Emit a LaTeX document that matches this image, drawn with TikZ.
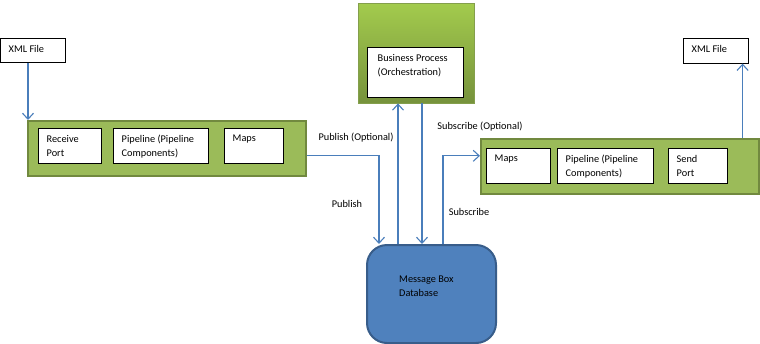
\documentclass[tikz,border=0pt]{standalone}
\usepackage{fontspec}
\setmainfont{Carlito}
\usetikzlibrary{positioning,arrows.meta}
\definecolor{bzverde}{HTML}{9BBB59}
\definecolor{bzverdeborda}{HTML}{71893F}
\definecolor{bzverdetopo}{HTML}{A3CB4D}
\definecolor{bzverdebase}{HTML}{76923C}
\definecolor{bzazul}{HTML}{4F81BD}
\definecolor{bzazulborda}{HTML}{385D8A}
\definecolor{bzseta}{HTML}{4A7EBB}
\tikzset{
  bzbarra/.style={draw=bzverdeborda, fill=bzverde, line width=1.6pt, anchor=north west, inner sep=0pt},
  bzcaixa/.style={draw=black, fill=white, line width=0.6pt, anchor=north west, inner sep=0pt},
  bztexto/.style={anchor=north west, align=left, inner sep=0pt, font=\fontsize{10.3}{14}\selectfont},
  bzrotulo/.style={bztexto, xshift=8.5pt, yshift=-7pt},
  bzlinha/.style={-{Straight Barb[length=6pt,width=11pt]}, draw=bzseta, line width=1.1pt},
  bzlegenda/.style={font=\fontsize{10.3}{12}\selectfont, inner sep=1pt},
}
\begin{document}
\begin{tikzpicture}[x=1pt,y=-1pt]
  \useasboundingbox (0,0) rectangle (760,343);
  % arquivos
  \node[bzcaixa, minimum width=65pt, minimum height=24pt, label={[bzrotulo]north west:XML File}] (xmlin) at (0,38) {};
  \node[bzcaixa, minimum width=65pt, minimum height=25pt, label={[bzrotulo]north west:XML File}] (xmlout) at (683,38) {};
  % porta de recebimento
  \node[bzbarra, minimum width=278pt, minimum height=55pt] (lbar) at (27,120) {};
  \node[bzcaixa, minimum width=63pt, minimum height=35pt, label={[bzrotulo]north west:{Receive\\Port}}] (rport) at (38,128) {};
  \node[bzcaixa, minimum width=95pt, minimum height=35pt, label={[bzrotulo]north west:{Pipeline (Pipeline\\Components)}}] (lpipe) at (113,128) {};
  \node[bzcaixa, minimum width=59pt, minimum height=35pt, label={[bzrotulo]north west:Maps}] (lmaps) at (224,128) {};
  % porta de envio
  \node[bzbarra, minimum width=278pt, minimum height=55pt] (rbar) at (480,138) {};
  \node[bzcaixa, minimum width=64pt, minimum height=35pt, label={[bzrotulo]north west:Maps}] (rmaps) at (486,148) {};
  \node[bzcaixa, minimum width=96pt, minimum height=35pt, label={[bzrotulo]north west:{Pipeline (Pipeline\\Components)}}] (rpipe) at (557,148) {};
  \node[bzcaixa, minimum width=59pt, minimum height=35pt, label={[bzrotulo]north west:{Send\\Port}}] (sport) at (668,148) {};
  % orquestracao
  \node[anchor=north west, inner sep=0pt, top color=bzverdetopo, bottom color=bzverdebase, draw=bzverde!85!black, line width=0.4pt,
        minimum width=116pt, minimum height=100pt] (bp) at (358,3) {};
  \node[bzcaixa, minimum width=96pt, minimum height=50pt, label={[bzrotulo, xshift=2pt]north west:{Business Process\\(Orchestration)}}] (bpcell) at (367,47) {};
  % banco de mensagens
  \node[anchor=north west, inner sep=0pt, fill=bzazul, draw=bzazulborda, line width=2pt, rounded corners=20pt,
        minimum width=129pt, minimum height=98pt, label={[bztexto, xshift=33pt, yshift=-32pt]north west:{Message Box\\Database}}] (msg) at (366,244) {};
  % conectores
  \draw[bzlinha] ([xshift=1pt]lbar.north west |- xmlin.south) -- ([xshift=1pt]lbar.north west);
  \draw[bzlinha] ([yshift=-7.5pt]lbar.east) -| ([xshift=-52.5pt]msg.north);
  \draw[bzlinha] ([xshift=-33.5pt]msg.north) -- ([xshift=-33.5pt]msg.north |- bp.south);
  \draw[bzlinha] ([xshift=-9.5pt]msg.north |- bp.south) -- ([xshift=-9.5pt]msg.north);
  \draw[bzlinha] ([xshift=11.5pt]msg.north) |- ([yshift=10.5pt]rbar.west);
  \draw[bzlinha] ([xshift=-6pt]xmlout.east |- rbar.north) -- ([xshift=-6pt]xmlout.south east);
  % legendas
  \node[bzlegenda] (pubopc) at (356,138) {Publish (Optional)};
  \node[bzlegenda] (pub) at (347,204) {Publish};
  \node[bzlegenda] (subopc) at (480,127) {Subscribe (Optional)};
  \node[bzlegenda] (sub) at (469,212) {Subscribe};
\end{tikzpicture}
\end{document}
